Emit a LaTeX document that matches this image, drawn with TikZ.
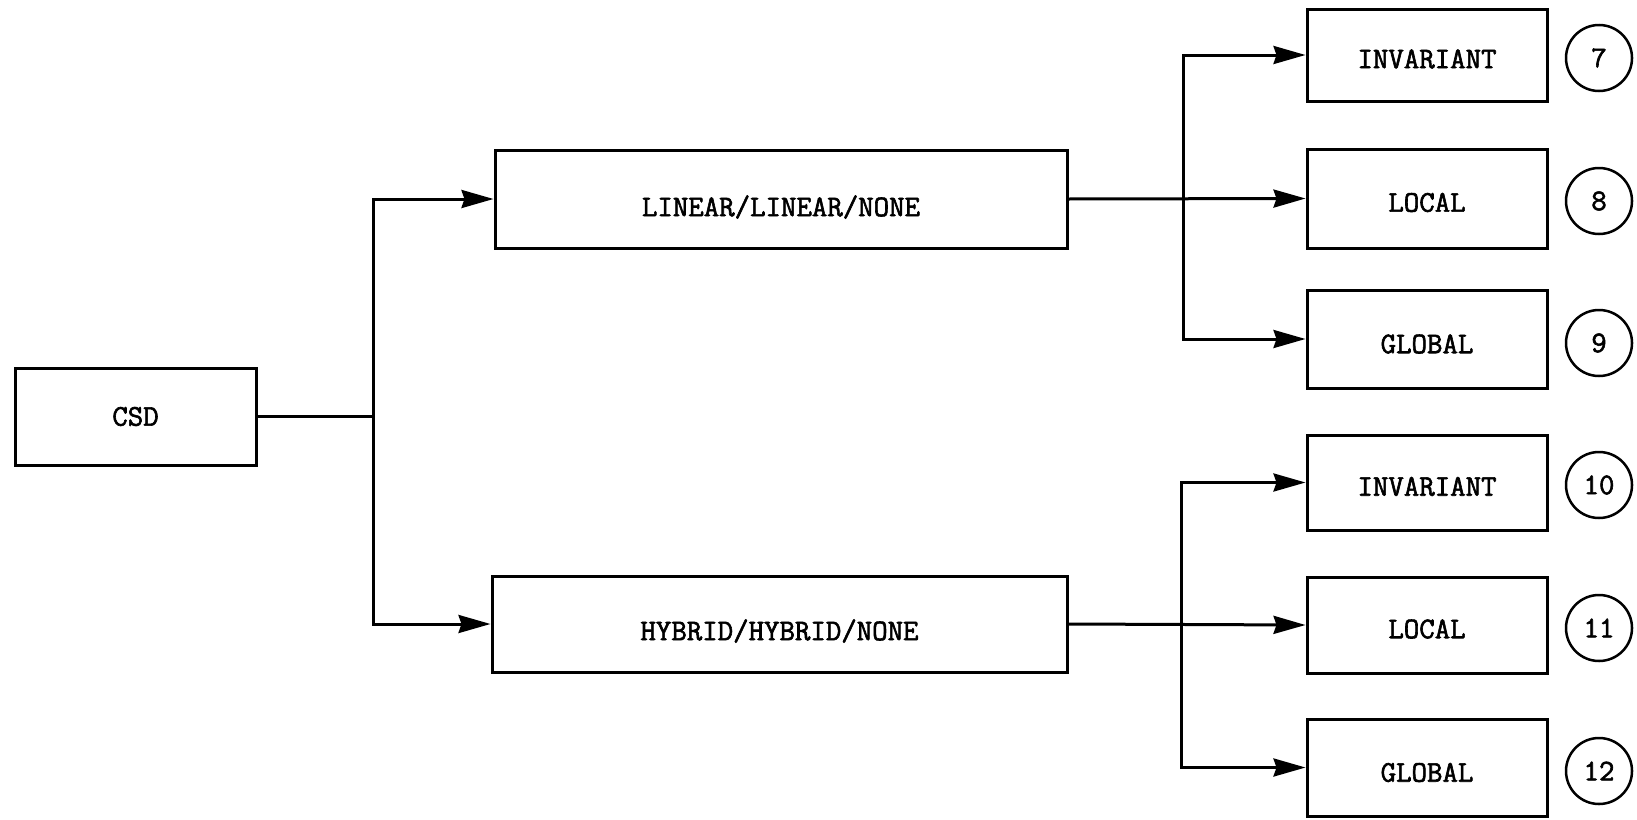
\documentclass[tikz,border=0pt]{standalone}
\usepackage{fontspec}
\newfontfamily\twfont{Latin Modern Mono}[FakeBold=2]
\usetikzlibrary{arrows.meta}
\newcommand{\lowtxt}[2]{\raisebox{-#1pt}[\height][\depth]{#2}}
\begin{document}
\begin{tikzpicture}[x=1pt,y=-1pt,
  box/.style={draw,line width=3pt,minimum height=#1,inner sep=0pt,font=\fontsize{30}{32}\twfont},
  numc/.style={draw,circle,line width=2.5pt,minimum size=66pt,inner sep=0pt,font=\fontsize{30}{32}\twfont},
  conn/.style={line width=3pt},
  arr/.style={line width=3pt,-{Stealth[length=32pt,width=18pt,inset=3pt]}}]
\useasboundingbox (0,0) rectangle (1637,819);
\node[box=97pt,minimum width=241pt] (csd) at (135.5,416.5) {CSD};
\node[box=98pt,minimum width=572pt] (lin) at (781,199) {\lowtxt{8}{LINEAR/LINEAR/NONE}};
\node[box=96pt,minimum width=575pt] (hyb) at (779.5,624) {\lowtxt{7}{HYBRID/HYBRID/NONE}};
\node[box=92pt,minimum width=240pt] (inva) at (1427,55) {\lowtxt{4}{INVARIANT}};
\node[box=99pt,minimum width=240pt] (loca) at (1427,198.5) {\lowtxt{4}{LOCAL}};
\node[box=98pt,minimum width=240pt] (gloa) at (1427,339) {\lowtxt{5}{GLOBAL}};
\node[box=95pt,minimum width=240pt] (invb) at (1427,482.5) {\lowtxt{4}{INVARIANT}};
\node[box=96pt,minimum width=240pt] (locb) at (1427,625) {\lowtxt{4}{LOCAL}};
\node[box=97pt,minimum width=240pt] (glob) at (1427,767.5) {\lowtxt{5}{GLOBAL}};
\node[numc] (n7) at (1599,58) {7};
\node[numc] (n8) at (1599,201) {8};
\node[numc] (n9) at (1599,343) {9};
\node[numc] (n10) at (1599,485) {10};
\node[numc] (n11) at (1599,628) {11};
\node[numc] (n12) at (1599,771) {12};
\coordinate (j0) at (373,416.5);
\coordinate (ja) at (1183,199);
\coordinate (jb) at (1181,624);
\draw[conn] (csd.east) -- (j0);
\draw[arr] (j0) |- (lin.west);
\draw[arr] (j0) |- (hyb.west);
\draw[arr] (lin.east) -- (loca.west);
\draw[arr] (ja) |- (inva.west);
\draw[arr] (ja) |- (gloa.west);
\draw[arr] (hyb.east) -- (locb.west);
\draw[arr] (jb) |- (invb.west);
\draw[arr] (jb) |- (glob.west);
\end{tikzpicture}
\end{document}
